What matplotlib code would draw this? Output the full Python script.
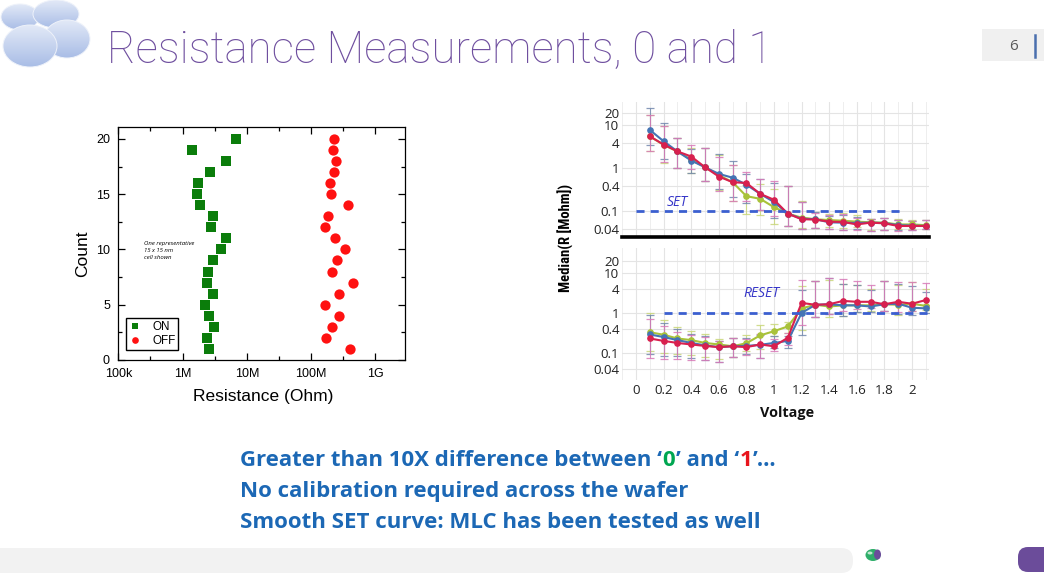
import matplotlib
matplotlib.use('Agg')
import matplotlib.pyplot as plt
import numpy as np
from matplotlib import font_manager
from matplotlib.patches import Ellipse, FancyBboxPatch, Rectangle
from matplotlib.colors import LinearSegmentedColormap
from matplotlib.ticker import FixedLocator, NullFormatter

# ---------------- data: left chart ----------------
counts = list(range(1, 21))
on_res = [2.57e6, 2.43e6, 3.1e6, 2.57e6, 2.2e6, 3.0e6, 2.37e6, 2.48e6, 3.0e6, 3.9e6,
          4.7e6, 2.8e6, 3.0e6, 1.87e6, 1.69e6, 1.74e6, 2.67e6, 4.7e6, 1.42e6, 6.7e6]
off_res = [403e6, 170e6, 209e6, 272e6, 162e6, 272e6, 443e6, 214e6, 250e6, 336e6,
           235e6, 164e6, 181e6, 375e6, 206e6, 197e6, 230e6, 241e6, 219e6, 230e6]
left_xticks = [1e5, 1e6, 1e7, 1e8, 1e9]
left_xticklabels = ['100k', '1M', '10M', '100M', '1G']
left_xminor = [3.16e5, 3.16e6, 3.16e7, 3.16e8]
left_yticks = [0, 5, 10, 15, 20]
left_yminor = [2.5, 7.5, 12.5, 17.5]
legend_labels = ['ON', 'OFF']
note_text = 'One representative\n15 x 15 nm\ncell shown'

# ---------------- data: right chart ----------------
volts = [0.1, 0.2, 0.3, 0.4, 0.5, 0.6, 0.7, 0.8, 0.9, 1.0, 1.1,
         1.2, 1.3, 1.4, 1.5, 1.6, 1.7, 1.8, 1.9, 2.0, 2.1]
set_blue = [7.9, 4.3, 2.5, 1.53, 1.07, 0.75, 0.61, 0.42, 0.257, 0.166, 0.089,
            0.068, 0.066, 0.056, 0.055, 0.054, 0.055, 0.054, 0.048, 0.047, 0.046]
set_red = [5.6, 3.6, 2.5, 1.9, 1.07, 0.65, 0.48, 0.46, 0.257, 0.187, 0.089,
           0.066, 0.065, 0.058, 0.057, 0.050, 0.055, 0.053, 0.046, 0.046, 0.046]
set_green = [5.6, 3.55, 2.5, 1.6, 1.07, 0.70, 0.48, 0.227, 0.197, 0.126, 0.089,
             0.072, 0.066, 0.063, 0.061, 0.058, 0.056, 0.055, 0.050, 0.050, 0.048]
set_err_hi = [3.2, 2.7, 2.1, 1.9, 2.8, 2.9, 2.5, 1.8, 2.2, 2.7, 4.5,
              2.5, 1.45, 1.4, 1.5, 1.4, 1.2, 1.3, 1.35, 1.3, 1.35]
set_err_lo = [2.2, 2.6, 2.5, 2.0, 2.1, 2.2, 2.8, 2.6, 2.4, 2.4, 1.9,
              1.7, 1.6, 1.45, 1.5, 1.35, 1.55, 1.45, 1.3, 1.25, 1.2]

reset_blue = [0.29, 0.25, 0.21, 0.178, 0.155, 0.14, 0.147, 0.15, 0.16, 0.178, 0.20,
              1.0, 1.6, 1.65, 1.55, 1.55, 1.45, 1.65, 1.7, 1.35, 1.3]
reset_red = [0.23, 0.20, 0.178, 0.163, 0.15, 0.14, 0.147, 0.14, 0.163, 0.147, 0.24,
             1.78, 1.6, 1.65, 2.0, 1.9, 1.9, 1.65, 1.9, 1.7, 2.1]
reset_green = [0.33, 0.285, 0.23, 0.21, 0.178, 0.163, 0.147, 0.175, 0.275, 0.35, 0.46,
               1.3, 1.6, 1.45, 1.55, 1.55, 1.55, 1.65, 1.6, 1.7, 1.5]
reset_err_hi = [3.0, 2.3, 1.9, 1.7, 1.7, 1.4, 1.65, 1.6, 1.8, 1.5, 1.3,
                3.7, 4.0, 4.5, 3.5, 3.3, 2.6, 3.8, 3.2, 3.5, 2.6]
reset_err_lo = [3.0, 2.9, 2.5, 2.4, 2.3, 2.3, 1.9, 1.6, 2.2, 1.3, 1.5,
                3.5, 2.0, 1.8, 1.8, 1.5, 1.4, 1.5, 1.8, 1.5, 1.3]

r_yticks = [0.04, 0.1, 0.4, 1, 4, 10, 20]
r_yticklabels = ['0.04', '0.1', '0.4', '1', '4', '10', '20']
r_xticks = [0, 0.2, 0.4, 0.6, 0.8, 1.0, 1.2, 1.4, 1.6, 1.8, 2.0]
r_xticklabels = ['0', '0.2', '0.4', '0.6', '0.8', '1', '1.2', '1.4', '1.6', '1.8', '2']
set_level = 0.1
reset_level = 1.0
set_line_span = [0.0, 1.92]
reset_line_span = [0.2, 2.12]

title = 'Resistance Measurements, 0 and 1'
page_number = '6'
bullet_1 = [('Greater than 10X difference between \u2018', 'blue'), ('0', 'green'),
            ('\u2019 and \u2018', 'blue'), ('1', 'red'), ('\u2019\u2026', 'blue')]
bullet_2 = 'No calibration required across the wafer'
bullet_3 = 'Smooth SET curve: MLC has been tested as well'

# ---------------- fonts ----------------
avail = {f.name for f in font_manager.fontManager.ttflist}
def pick(*names):
    for n in names:
        if n in avail:
            return n
    return 'DejaVu Sans'

F_ARIAL = pick('Liberation Sans', 'Arimo', 'DejaVu Sans')
F_CAL = pick('Open Sans', 'Noto Sans', 'Lato', 'DejaVu Sans')
F_LIGHT = pick('Roboto', 'Lato', 'Open Sans')
F_NARROW = pick('Liberation Sans Narrow', 'Roboto Condensed', 'DejaVu Sans')

W, H = 1044, 583
fig = plt.figure(figsize=(W / 100, H / 100), dpi=100)
fig.patch.set_facecolor('white')
bg = fig.add_axes([0, 0, 1, 1], zorder=0)
bg.set_xlim(0, W)
bg.set_ylim(H, 0)
bg.axis('off')
renderer = fig.canvas.get_renderer()


def fit_size(text, target, base=20, **kw):
    t = bg.text(0, 0, text, fontsize=base, **kw)
    w = t.get_window_extent(renderer).width
    t.remove()
    return base * target / w


def fax(l, t, r, b, **kw):
    return fig.add_axes([l / W, 1 - b / H, (r - l) / W, (b - t) / H], **kw)

# ---------------- slide decoration ----------------
clouds = [(20, 17, 38, 26), (56, 14, 46, 28), (67, 39, 46, 38), (30, 46, 54, 42)]
cmap = LinearSegmentedColormap.from_list('cl', ['#e2e9f7', '#a9bde6'])
grad = np.linspace(0, 1, 64).reshape(-1, 1)
for i, (cx, cy, w, h) in enumerate(clouds):
    e = Ellipse((cx, cy), w, h, facecolor='none', edgecolor='none')
    bg.add_patch(e)
    im = bg.imshow(grad, cmap=cmap, extent=(cx - w / 2, cx + w / 2, cy + h / 2, cy - h / 2),
                   aspect='auto', zorder=1 + 0.1 * i, interpolation='bilinear')
    im.set_clip_path(e)
    bg.add_patch(Ellipse((cx, cy), w, h, facecolor='none', edgecolor='#eef2fa', lw=0.7,
                         zorder=1.05 + 0.1 * i))
bg.set_xlim(0, W)
bg.set_ylim(H, 0)

tsize = fit_size(title, 665, family=F_LIGHT, weight='light')
bg.text(107, 63, title, fontsize=tsize, family=F_LIGHT, weight='light', color='#6f4f9f',
        va='baseline', ha='left')

bg.add_patch(Rectangle((982, 29), 70, 32, facecolor='#f0f0f0', edgecolor='none'))
bg.text(1013, 46, page_number, fontsize=11, family=F_CAL, color='#595959', ha='center', va='center')
bg.plot([1035, 1035], [35, 57], color='#4a6fae', lw=1.8)

bg.add_patch(FancyBboxPatch((-30, 548), 883, 25, boxstyle='round,pad=0,rounding_size=12',
                            facecolor='#f2f2f2', edgecolor='none'))
bg.add_patch(Ellipse((873, 555), 15, 12, facecolor='#2fae6a', edgecolor='none'))
bg.add_patch(Ellipse((877.5, 554.5), 7, 10, facecolor='#6b4c9a', edgecolor='none'))
bg.add_patch(Ellipse((870, 553), 5, 3, facecolor='#bfe8cf', edgecolor='none'))
bg.add_patch(FancyBboxPatch((1018, 547), 50, 25, boxstyle='round,pad=0,rounding_size=10',
                            facecolor='#6b4c9a', edgecolor='none'))

# bullet text
cols = {'blue': '#1c68b5', 'green': '#00a651', 'red': '#e8141c'}
full1 = ''.join(s for s, _ in bullet_1)
bsize = fit_size(full1, 535, family=F_CAL, weight='bold')
x = 240
for s, c in bullet_1:
    t = bg.text(x, 466, s, fontsize=bsize, family=F_CAL, weight='bold', color=cols[c],
                va='baseline', ha='left')
    x += t.get_window_extent(renderer).width + 0.6
bg.text(240, 497, bullet_2, fontsize=bsize, family=F_CAL, weight='bold', color=cols['blue'],
        va='baseline', ha='left')
bg.text(240, 528, bullet_3, fontsize=bsize, family=F_CAL, weight='bold', color=cols['blue'],
        va='baseline', ha='left')

# ---------------- left chart ----------------
axL = fax(118.3, 126.7, 405, 360, zorder=2)
axL.set_xscale('log')
axL.plot(on_res, counts, 's', color='#0b7d0b', ms=6.8, mew=0, label=legend_labels[0])
axL.plot(off_res, counts, 'o', color='#ff1111', ms=7.4, mew=0, label=legend_labels[1])
axL.set_xlim(1e5, 2.9e9)
axL.set_ylim(0, 21.1)
axL.xaxis.set_major_locator(FixedLocator(left_xticks))
axL.set_xticklabels(left_xticklabels)
axL.xaxis.set_minor_locator(FixedLocator(left_xminor))
axL.xaxis.set_minor_formatter(NullFormatter())
axL.yaxis.set_major_locator(FixedLocator(left_yticks))
axL.yaxis.set_minor_locator(FixedLocator(left_yminor))
axL.tick_params(which='both', direction='in', top=True, right=True, width=0.9)
axL.tick_params(which='major', length=5, labelsize=9, pad=6)
axL.tick_params(which='minor', length=3)
for lab in axL.get_xticklabels() + axL.get_yticklabels():
    lab.set_family(F_ARIAL)
for sp in axL.spines.values():
    sp.set_linewidth(0.9)
leg = axL.legend(loc='lower left', bbox_to_anchor=(0.027, 0.043), frameon=True, fancybox=False,
                 edgecolor='black', framealpha=1, borderpad=0.25, handletextpad=1.0,
                 markerscale=0.65, borderaxespad=0, labelspacing=0.15, handlelength=1.0,
                 prop={'family': F_ARIAL, 'size': 8.4})
leg.get_frame().set_linewidth(1.0)
axL.text(0.09, 0.51, note_text, transform=axL.transAxes, fontsize=4.3, style='italic',
         family=F_CAL, va='top', ha='left', linespacing=1.5)
bg.text(83, 254, 'Count', rotation=90, fontsize=12.5, family=F_ARIAL, ha='center', va='center')
bg.text(263, 396, 'Resistance (Ohm)', fontsize=12.5, family=F_ARIAL, ha='center', va='center')

# ---------------- right chart ----------------
x0, x1 = -0.1, 2.12
pxu = 138.0
rl = 636 + x0 * pxu
rr = 636 + x1 * pxu
axT = fax(rl, 102, rr, 237, zorder=2)
axB = fax(rl, 248, rr, 380, zorder=2)

blue_c, red_c, green_c = '#4574b4', '#d8204e', '#a9c23a'
ecol = {'b': '#7388ad', 'r': '#d77ab8', 'g': '#c9d77a'}


def panel(ax, b, r, g, hi, lo, ylim):
    hi = np.array(hi)
    lo = np.array(lo)
    for vals, ec in ((g, ecol['g']), (b, ecol['b']), (r, ecol['r'])):
        v = np.array(vals)
        ax.errorbar(volts, v, yerr=[v - v / lo, v * hi - v], fmt='none', ecolor=ec,
                    elinewidth=0.8, capsize=3.0, capthick=0.9, alpha=0.85, zorder=2)
    ax.plot(volts, g, '-o', color=green_c, lw=1.5, ms=3.8, zorder=3)
    ax.plot(volts, b, '-o', color=blue_c, lw=1.5, ms=3.8, zorder=3)
    ax.plot(volts, r, '-o', color=red_c, lw=1.5, ms=3.8, zorder=3)
    ax.set_yscale('log')
    ax.set_xlim(x0, x1)
    ax.set_ylim(*ylim)
    ax.yaxis.set_major_locator(FixedLocator(r_yticks))
    ax.set_yticklabels(r_yticklabels)
    ax.yaxis.set_minor_locator(FixedLocator([]))
    ax.xaxis.set_major_locator(FixedLocator(r_xticks))
    ax.set_xticklabels(r_xticklabels)
    ax.xaxis.set_minor_locator(FixedLocator([v for v in volts if round(v * 10) % 2 == 1] + [-0.1]))
    ax.grid(True, which='major', color='#e4e4e4', lw=0.8, zorder=0)
    ax.grid(True, which='minor', axis='x', color='#eeeeee', lw=0.7, zorder=0)
    ax.set_axisbelow(True)
    ax.tick_params(which='both', length=0, labelsize=9.6, pad=2)
    for lab in ax.get_xticklabels() + ax.get_yticklabels():
        lab.set_family(F_CAL)
        lab.set_color('#222222')
    for sp in ax.spines.values():
        sp.set_visible(False)


panel(axT, set_blue, set_red, set_green, set_err_hi, set_err_lo, (0.0255, 35.2))
panel(axB, reset_blue, reset_red, reset_green, reset_err_hi, reset_err_lo, (0.0211, 42.0))
axT.tick_params(axis='x', labelbottom=False)
axT.spines['bottom'].set_visible(True)
axT.spines['bottom'].set_color('black')
axT.spines['bottom'].set_linewidth(2.6)
axB.tick_params(axis='x', pad=3)

dash_c = '#3b5fd0'
axT.plot(set_line_span, [set_level, set_level], color=dash_c, lw=2.0, dashes=(2.9, 2.2), zorder=4)
axB.plot(reset_line_span, [reset_level, reset_level], color=dash_c, lw=2.0, dashes=(2.9, 2.2),
         zorder=4, clip_on=False)
axT.text(0.30, 0.16, 'SET', fontsize=10, style='italic', family=F_CAL, color='#3535c8',
         ha='center', va='center')
axB.text(0.906, 3.0, 'RESET', fontsize=10, style='italic', family=F_CAL, color='#3535c8',
         ha='center', va='center')

ylab = 'Median(R [Mohm])'
if F_NARROW == 'DejaVu Sans':
    ysz = fit_size(ylab, 108, family='DejaVu Sans', weight='bold', stretch='condensed')
    bg.text(566, 238, ylab, rotation=90, fontsize=ysz, family='DejaVu Sans', weight='bold',
            stretch='condensed', ha='center', va='center')
else:
    ysz = fit_size(ylab, 108, family=F_NARROW, weight='bold')
    bg.text(566, 238, ylab, rotation=90, fontsize=ysz, family=F_NARROW, weight='bold',
            ha='center', va='center')
vsz = fit_size('Voltage', 54, family=F_CAL, weight='bold')
bg.text(787, 413, 'Voltage', fontsize=vsz, family=F_CAL, weight='bold', ha='center',
        va='center', color='#111111')

fig.savefig('out.png', dpi=100)
